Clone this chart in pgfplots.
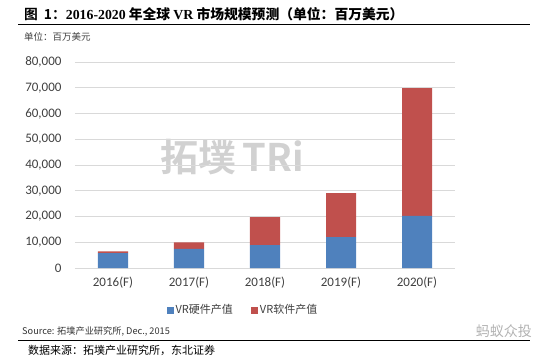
\documentclass[border=0pt]{standalone}
\usepackage{fontspec}
\usepackage{pgfplots}
\pgfplotsset{compat=1.18}
\setmainfont{Carlito}
\newfontfamily\cjk{Noto Sans CJK SC}
\newfontfamily\cjkb{Noto Sans CJK SC Bold}
\newfontfamily\serifb{Liberation Serif}
\definecolor{hwblue}{HTML}{4F81BD}
\definecolor{swred}{HTML}{C0504D}
\definecolor{gridc}{HTML}{D9D9D9}
\begin{document}
\begin{tikzpicture}
\path[use as bounding box] (0pt,0pt) rectangle (544pt,362pt);
% title
\node[anchor=west,inner sep=0] at (24pt,348pt) {\fontsize{13.8}{15}\selectfont\cjkb 图\hspace{6pt}1：\serifb\bfseries 2016-2020\cjkb\ 年全球 \serifb\bfseries VR\cjkb\ 市场规模预测（单位：百万美元）};
\draw[line width=1pt] (18pt,337pt) -- (530pt,337pt);
\node[anchor=west,inner sep=0,text=black!75] at (24pt,325pt) {\fontsize{9.5}{10}\selectfont\cjk 单位：百万美元};
% watermark
\node[text=black!18,inner sep=0] at (232pt,205pt) {\fontsize{38}{40}\selectfont\cjkb 拓墣\,TRi};
\begin{axis}[
  at={(75pt,94pt)}, anchor=south west,
  scale only axis, width=380pt, height=206pt,
  ymin=0, ymax=80000, xmin=-0.5, xmax=4.5,
  ybar stacked, bar width=30pt,
  ytick={0,10000,...,80000},
  scaled y ticks=false,
  /pgf/number format/1000 sep={,},
  /pgf/number format/assume math mode=true,
  yticklabel style={font=\fontsize{13}{14}\selectfont, text=black!75, xshift=-10pt},
  xtick=data,
  xticklabels={2016(F),2017(F),2018(F),2019(F),2020(F)},
  xticklabel style={font=\fontsize{13}{14}\selectfont, text=black!75, yshift=-5pt},
  major tick length=0pt,
  ymajorgrids, grid style={gridc, line width=0.8pt},
  axis x line*=bottom, axis y line*=left,
  x axis line style={gridc, line width=0.8pt, -},
  y axis line style={draw=none},
  legend style={at={(0.442,-0.204)}, anchor=center, draw=none, legend columns=2,
     font=\fontsize{11}{12}\selectfont\cjk, text=black!75,
     /tikz/every even column/.append style={column sep=16pt}},
  legend image code/.code={\fill[#1] (2pt,-3.5pt) rectangle (9pt,3.5pt);},
]
\addplot[fill=hwblue, draw=none] coordinates {(0,5800) (1,7400) (2,8900) (3,12000) (4,20200)};
\addlegendentry{VR硬件产值}
\addplot[fill=swred, draw=none] coordinates {(0,700) (1,2600) (2,10900) (3,17100) (4,49700)};
\addlegendentry{VR软件产值}
\end{axis}
% footer
\node[anchor=west,inner sep=0,text=black!80] at (22pt,31pt) {\fontsize{9.2}{10}\selectfont\cjk Source: 拓墣产业研究所, Dec., 2015};
\node[anchor=east,inner sep=0,text=black!30] at (532pt,31pt) {\fontsize{14}{15}\selectfont\cjk 蚂蚁众投};
\draw[line width=0.8pt] (18pt,22pt) -- (530pt,22pt);
\node[anchor=west,inner sep=0] at (28pt,12pt) {\fontsize{11}{12}\selectfont\cjk 数据来源：拓墣产业研究所，东北证券};
\end{tikzpicture}
\end{document}
